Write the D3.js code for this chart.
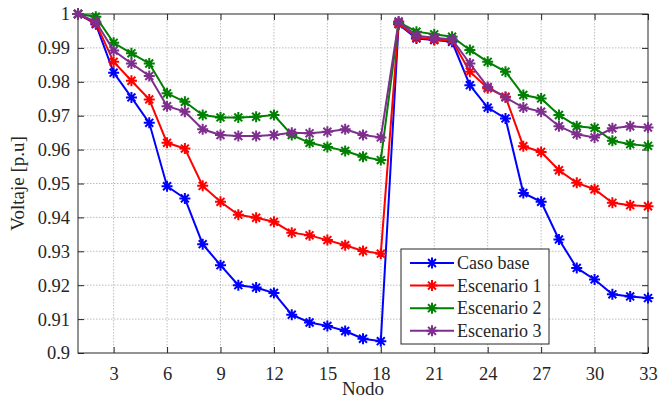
<!DOCTYPE html>
<meta charset="utf-8">

<!-- Load d3.js -->
<script src="https://d3js.org/d3.v7.min.js"></script>

<style>
  body { margin: 0; background: #fff; }
  text { font-family: "Liberation Serif", "Times New Roman", serif; fill: #262626; }
</style>

<!-- Create a div where the graph will take place -->
<div id="my_dataviz"></div>

<script>

// nodes 1..33
var nodos = d3.range(1, 34);

var casoBase = [1.0, 0.9970, 0.9827, 0.9754, 0.9679, 0.9492, 0.9456, 0.9321, 0.9259, 0.9200, 0.9193,
  0.9177, 0.9113, 0.9090, 0.9080, 0.9065, 0.9042, 0.9035, 0.9970, 0.9928, 0.9923, 0.9918,
  0.9790, 0.9724, 0.9692, 0.9472, 0.9446, 0.9335, 0.9251, 0.9217, 0.9173, 0.9167, 0.9162];

var escenario1 = [1.0, 0.9973, 0.9859, 0.9803, 0.9748, 0.9620, 0.9603, 0.9493, 0.9446, 0.9408, 0.9399,
  0.9387, 0.9355, 0.9347, 0.9333, 0.9318, 0.9301, 0.9293, 0.9972, 0.9931, 0.9925, 0.9922,
  0.9830, 0.9781, 0.9756, 0.9610, 0.9593, 0.9539, 0.9502, 0.9483, 0.9443, 0.9436, 0.9433];

var escenario2 = [1.0, 0.9992, 0.9915, 0.9884, 0.9854, 0.9766, 0.9741, 0.9702, 0.9695, 0.9695, 0.9697,
  0.9702, 0.9643, 0.9620, 0.9608, 0.9596, 0.9579, 0.9569, 0.9976, 0.9948, 0.9940, 0.9933,
  0.9894, 0.9859, 0.9830, 0.9761, 0.9751, 0.9702, 0.9669, 0.9664, 0.9626, 0.9616, 0.9611];

var escenario3 = [1.0, 0.9977, 0.9892, 0.9854, 0.9817, 0.9728, 0.9712, 0.9660, 0.9643, 0.9640, 0.9640,
  0.9643, 0.9650, 0.9648, 0.9653, 0.9660, 0.9643, 0.9636, 0.9978, 0.9936, 0.9930, 0.9925,
  0.9854, 0.9785, 0.9754, 0.9724, 0.9712, 0.9669, 0.9645, 0.9636, 0.9663, 0.9669, 0.9665];

var seriesNames = ["Caso base", "Escenario 1", "Escenario 2", "Escenario 3"];
var seriesColors = ["#0000ff", "#ff0000", "#008000", "#7e2f8e"];

var xTicks = d3.range(3, 34, 3);
var yTicks = d3.range(0, 11).map(function(i) { return +(0.9 + i * 0.01).toFixed(2); });

// set the dimensions and margins of the graph
var margin = {top: 14, right: 11, bottom: 45, left: 78},
  width = 659 - margin.left - margin.right,
  height = 398 - margin.top - margin.bottom;

var svg = d3.select("#my_dataviz")
  .append("svg")
    .attr("width", width + margin.left + margin.right)
    .attr("height", height + margin.top + margin.bottom)
  .append("g")
    .attr("transform", "translate(" + margin.left + "," + margin.top + ")");

var x = d3.scaleLinear().domain([1, 33]).range([0, width]);
var y = d3.scaleLinear().domain([0.9, 1]).range([height, 0]);

// grid lines (dotted)
svg.append("g")
  .selectAll("line")
  .data(xTicks.filter(function(d) { return d < 33; }))
  .enter().append("line")
    .attr("x1", function(d) { return x(d); })
    .attr("x2", function(d) { return x(d); })
    .attr("y1", 0).attr("y2", height)
    .attr("stroke", "#bdbdbd").attr("stroke-dasharray", "1.5,1.5");
svg.append("g")
  .selectAll("line")
  .data(yTicks.slice(1, -1))
  .enter().append("line")
    .attr("y1", function(d) { return y(d); })
    .attr("y2", function(d) { return y(d); })
    .attr("x1", 0).attr("x2", width)
    .attr("stroke", "#bdbdbd").attr("stroke-dasharray", "1.5,1.5");

// axes: ticks pointing inwards, on all four sides
var tick = 6;
svg.append("g")
  .attr("transform", "translate(0," + height + ")")
  .call(d3.axisBottom(x).tickValues(xTicks).tickSize(-tick).tickPadding(14).tickSizeOuter(0));
svg.append("g")
  .call(d3.axisTop(x).tickValues(xTicks).tickSize(-tick).tickFormat("").tickSizeOuter(0));
svg.append("g")
  .call(d3.axisLeft(y).tickValues(yTicks).tickSize(-tick).tickPadding(8).tickSizeOuter(0)
    .tickFormat(function(d) { return d === 1 ? "1" : d3.format(".2~f")(d); }));
svg.append("g")
  .attr("transform", "translate(" + width + ",0)")
  .call(d3.axisRight(y).tickValues(yTicks).tickSize(-tick).tickFormat("").tickSizeOuter(0));

svg.selectAll(".tick line").attr("stroke", "#262626");
svg.selectAll(".domain").remove();
svg.selectAll(".tick text")
  .style("font-size", "18.5px")
  .style("font-family", "'Liberation Serif', 'Times New Roman', serif")
  .attr("fill", "#262626");

// box
svg.append("rect")
  .attr("width", width).attr("height", height)
  .attr("fill", "none").attr("stroke", "#262626").attr("stroke-width", 1);

// axis titles
svg.append("text")
  .attr("x", width / 2).attr("y", height + 42)
  .attr("text-anchor", "middle")
  .style("font-size", "19px")
  .text("Nodo");
svg.append("text")
  .attr("transform", "translate(" + (-54) + "," + (height / 2) + ") rotate(-90)")
  .attr("text-anchor", "middle")
  .style("font-size", "19px")
  .text("Voltaje [p.u]");

// asterisk marker
function asterisk(r) {
  var d = r * 0.72;
  return "M" + (-r) + ",0L" + r + ",0M0," + (-r) + "L0," + r +
    "M" + (-d) + "," + (-d) + "L" + d + "," + d + "M" + (-d) + "," + d + "L" + d + "," + (-d);
}

var allSeries = [casoBase, escenario1, escenario2, escenario3];
var line = d3.line()
  .x(function(d, i) { return x(nodos[i]); })
  .y(function(d) { return y(d); });

allSeries.forEach(function(s, k) {
  var g = svg.append("g");
  g.append("path")
    .datum(s)
    .attr("d", line)
    .attr("fill", "none")
    .attr("stroke", seriesColors[k])
    .attr("stroke-width", 2);
  g.selectAll("path.mk")
    .data(s)
    .enter().append("path")
      .attr("class", "mk")
      .attr("transform", function(d, i) { return "translate(" + x(nodos[i]) + "," + y(d) + ")"; })
      .attr("d", asterisk(5.5))
      .attr("stroke", seriesColors[k])
      .attr("stroke-width", 2)
      .attr("fill", "none");
});

// legend
var lx = 401 - margin.left, ly = 249 - margin.top;
var legend = svg.append("g").attr("transform", "translate(" + lx + "," + ly + ")");
legend.append("rect")
  .attr("width", 148).attr("height", 95)
  .attr("fill", "#fff").attr("stroke", "#262626").attr("stroke-width", 1);
seriesNames.forEach(function(name, k) {
  var yy = 14 + k * 22.6;
  legend.append("line")
    .attr("x1", 9).attr("x2", 53).attr("y1", yy).attr("y2", yy)
    .attr("stroke", seriesColors[k]).attr("stroke-width", 2);
  legend.append("path")
    .attr("transform", "translate(31," + yy + ")")
    .attr("d", asterisk(5.5))
    .attr("stroke", seriesColors[k]).attr("stroke-width", 2).attr("fill", "none");
  legend.append("text")
    .attr("x", 56).attr("y", yy + 6)
    .style("font-size", "18px")
    .text(name);
});

</script>
